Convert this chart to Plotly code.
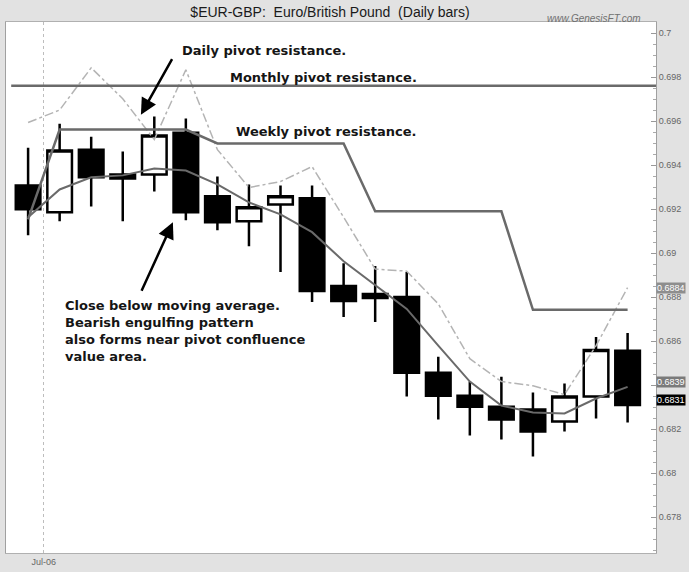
# EUR/GBP daily bars with pivot levels and moving average
import plotly.graph_objects as go

days = list(range(20))
opens = [0.69307, 0.69185, 0.69470, 0.69357, 0.69357, 0.69547, 0.69258, 0.69144, 0.69221, 0.69249,
         0.68850, 0.68814, 0.68800, 0.68456, 0.68352, 0.68302, 0.68289, 0.68235, 0.68348, 0.68556]
highs = [0.69479, 0.69588, 0.69529, 0.69461, 0.69620, 0.69611, 0.69348, 0.69312, 0.69307, 0.69307,
         0.68954, 0.68941, 0.68914, 0.68529, 0.68416, 0.68438, 0.68366, 0.68407, 0.68619, 0.68637]
lows = [0.69081, 0.69144, 0.69212, 0.69144, 0.69280, 0.69149, 0.69104, 0.69031, 0.68914, 0.68778,
        0.68710, 0.68687, 0.68348, 0.68244, 0.68171, 0.68153, 0.68076, 0.68189, 0.68248, 0.68230]
closes = [0.69199, 0.69466, 0.69344, 0.69339, 0.69534, 0.69185, 0.69140, 0.69208, 0.69258, 0.68828,
          0.68782, 0.68796, 0.68456, 0.68352, 0.68302, 0.68244, 0.68189, 0.68348, 0.68560, 0.68310]

moving_avg = [0.69163, 0.69289, 0.69344, 0.69353, 0.69384, 0.69375, 0.69312, 0.69230, 0.69176, 0.69095,
              0.68963, 0.68855, 0.68746, 0.68579, 0.68416, 0.68307, 0.68275, 0.68271, 0.68339, 0.68392]
upper_band = [0.69593, 0.69650, 0.69842, 0.69701, 0.69516, 0.69833, 0.69470, 0.69298, 0.69325, 0.69393,
              0.69163, 0.68927, 0.68918, 0.68769, 0.68520, 0.68416, 0.68397, 0.68357, 0.68579, 0.68843]
pivot_res = [0.69153, 0.69561, 0.69561, 0.69561, 0.69561, 0.69561, 0.69498, 0.69498, 0.69498, 0.69498,
             0.69498, 0.69190, 0.69190, 0.69190, 0.69190, 0.69190, 0.68742, 0.68742, 0.68742, 0.68742]
monthly_pivot = 0.6976

month_ticks = [0.5]
month_labels = ["Jul-06"]
price_ticks = [0.678, 0.680, 0.682, 0.684, 0.686, 0.688, 0.690, 0.692, 0.694, 0.696, 0.698, 0.700]
# 0.684 sits under the price flags, so its label is left blank
price_labels = ["0.678", "0.68", "0.682", "", "0.686", "0.688", "0.69", "0.692", "0.694", "0.696", "0.698", "0.7"]

fig = go.Figure()

fig.add_trace(go.Scatter(x=days, y=upper_band, mode="lines",
                         line=dict(color="#b4b4b4", width=1.5, dash="dashdot")))
fig.add_trace(go.Scatter(x=days, y=pivot_res, mode="lines",
                         line=dict(color="#6a6a6a", width=2.5)))
fig.add_trace(go.Candlestick(x=days, open=opens, high=highs, low=lows, close=closes,
                             increasing=dict(fillcolor="white", line=dict(color="black", width=2.5)),
                             decreasing=dict(fillcolor="black", line=dict(color="black", width=2.5))))
fig.add_trace(go.Scatter(x=days, y=moving_avg, mode="lines",
                         line=dict(color="#6a6a6a", width=2)))

fig.add_shape(type="line", xref="paper", yref="y", x0=0.008, x1=1,
              y0=monthly_pivot, y1=monthly_pivot, line=dict(color="#6a6a6a", width=2.5))

bold = dict(family="DejaVu Sans", size=13, color="#151515")
notes = [
    ("<b>Daily pivot resistance.</b>", 4.81, 0.69919),
    ("<b>Monthly pivot resistance.</b>", 6.33, 0.69796),
    ("<b>Weekly pivot resistance.</b>", 6.52, 0.69552),
]
for txt, nx, ny in notes:
    fig.add_annotation(x=nx, y=ny, text=txt, showarrow=False, xanchor="left",
                       yanchor="middle", font=bold)

fig.add_annotation(x=1.11, y=0.68805, xanchor="left", yanchor="top", align="left",
                   showarrow=False, font=bold,
                   text="<b>Close below moving average.<br>Bearish engulfing pattern<br>"
                        "also forms near pivot confluence<br>value area.</b>")

fig.add_annotation(x=3.576, y=0.69629, ax=32, ay=-57, text="", showarrow=True,
                   arrowhead=2, arrowsize=1.3, arrowwidth=2.5, arrowcolor="black", standoff=0)
fig.add_annotation(x=4.589, y=0.6914, ax=-32, ay=70, text="", showarrow=True,
                   arrowhead=2, arrowsize=1.3, arrowwidth=2.5, arrowcolor="black", standoff=0)

# value flags on the price axis
flag_font = dict(family="Liberation Sans", size=9, color="white")
fig.add_annotation(xref="paper", x=1, y=upper_band[-1], text=f"{upper_band[-1]:.4f}",
                   showarrow=False, xanchor="left", bgcolor="#8e8e8e", font=flag_font, borderpad=0)
fig.add_annotation(xref="paper", x=1, y=moving_avg[-1], yshift=5, text=f"{moving_avg[-1]:.4f}",
                   showarrow=False, xanchor="left", bgcolor="#7a7a7a", font=flag_font, borderpad=0)
fig.add_annotation(xref="paper", x=1, y=closes[-1], yshift=5, text=f"{closes[-1]:.4f}",
                   showarrow=False, xanchor="left", bgcolor="black", font=flag_font, borderpad=0)

fig.add_annotation(xref="paper", yref="paper", x=0.905, y=1.0206, xanchor="center",
                   text="<i>www.GenesisFT.com</i>", showarrow=False,
                   font=dict(family="Liberation Sans", size=10, color="#707070"))

fig.update_layout(
    width=689, height=572,
    margin=dict(l=5, r=33, t=22, b=17),
    paper_bgcolor="#e2e2e2", plot_bgcolor="white",
    showlegend=False,
    boxgap=0.22, boxgroupgap=0,
    title=dict(text="$EUR-GBP:\u00a0 Euro/British Pound\u00a0 (Daily bars)",
               x=0.479, xref="container", xanchor="center",
               y=0.979, yref="container", yanchor="middle",
               font=dict(family="Liberation Sans", size=14, color="#1a1a1a")),
    xaxis=dict(range=[-0.7, 19.9], rangeslider=dict(visible=False),
               tickvals=month_ticks, ticktext=month_labels, ticks="",
               tickfont=dict(family="Liberation Sans", size=9, color="#666"),
               showgrid=True, gridcolor="#bdbdbd", griddash="dot", gridwidth=1,
               showline=True, linecolor="#b0b0b0", mirror=True, zeroline=False),
    yaxis=dict(side="right", range=[0.67637, 0.7005],
               tickvals=price_ticks, ticktext=price_labels,
               ticks="inside", ticklen=5, tickcolor="#999",
               minor=dict(dtick=0.0005, tick0=0.678, ticks="inside", ticklen=3,
                          tickcolor="#aaa", showgrid=False),
               tickfont=dict(family="Liberation Sans", size=9, color="#666"),
               showgrid=False, zeroline=False,
               showline=True, linecolor="#a0a0a0", mirror=True),
)

# the page's default body margin would push the figure off the window
fig.write_html("out.html", config={"displayModeBar": False},
               post_script="document.body.style.margin='0';")
